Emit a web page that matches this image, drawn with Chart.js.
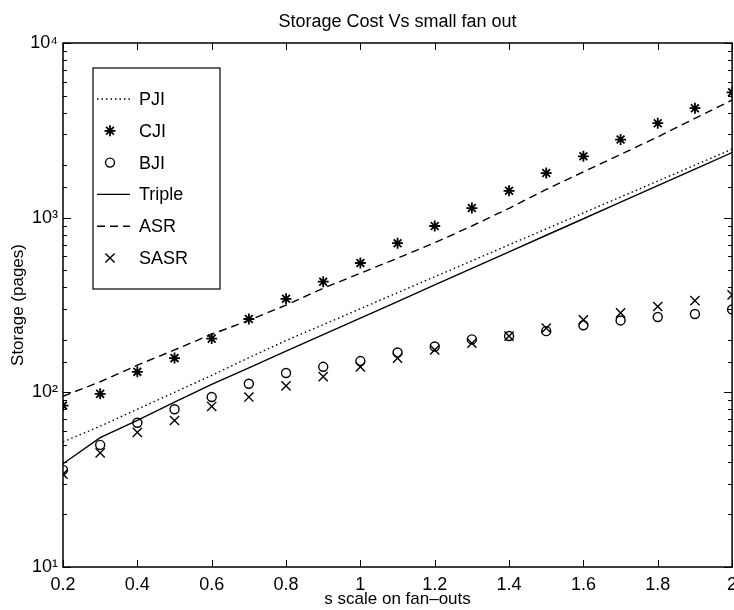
<!DOCTYPE html>
<html>
<head>
<meta charset="utf-8">
<script src="https://cdn.jsdelivr.net/npm/chart.js@4.4.1/dist/chart.umd.min.js"></script>
<style>
  html, body { margin: 0; background: #fff; overflow: hidden; }
  #wrap { width: 734px; height: 610px; overflow: hidden; }
</style>
</head>
<body>
<div id="wrap"><canvas id="storageChart" width="734" height="610"></canvas></div>
<script>
// s scale on fan-outs
var fanOut = [0.2, 0.3, 0.4, 0.5, 0.6, 0.7, 0.8, 0.9, 1.0, 1.1, 1.2, 1.3, 1.4, 1.5, 1.6, 1.7, 1.8, 1.9, 2.0];

// storage in pages
var pjiPages    = [52, 64, 80, 100, 125, 158, 198, 244, 301, 372, 459, 566, 699, 862, 1064, 1313, 1620, 1999, 2467];
var cjiPages    = [84, 98, 131, 157, 203, 263, 343, 430, 550, 714, 896, 1135, 1425, 1800, 2245, 2800, 3475, 4235, 5220];
var bjiPages    = [36, 50, 67, 80, 94, 112, 129, 140, 151, 169, 183, 201, 210, 224, 242, 258, 270, 281, 298];
var triplePages = [39, 55, 69, 88, 111, 138, 172, 214, 266, 331, 412, 512, 637, 793, 986, 1227, 1527, 1899, 2360];
var asrPages    = [95, 115, 143, 175, 215, 258, 316, 394, 481, 586, 719, 896, 1132, 1450, 1830, 2300, 2900, 3700, 4720];
var sasrPages   = [34, 45, 59, 69, 83, 94, 109, 123, 140, 157, 175, 191, 210, 233, 260, 285, 310, 335, 361];

var yTickValues = [10, 100, 1000, 10000];
var yTickLabels = ['10\u00b9', '10\u00b2', '10\u00b3', '10\u2074'];

var fontFamily = '"Liberation Sans", Arial, Helvetica, sans-serif';
var plotRight = 732;

function toPoints(arr) {
  return fanOut.map(function(x, i) { return { x: x, y: arr[i] }; });
}

// matlab style box with inward ticks
var matlabAxes = {
  id: 'matlabAxes',
  afterDatasetsDraw: function(chart) {
    var ctx = chart.ctx, a = chart.chartArea;
    var xs = chart.scales.x, ys = chart.scales.y;
    ctx.save();
    ctx.strokeStyle = '#000';
    ctx.lineWidth = 1;
    ctx.beginPath();
    xs.ticks.forEach(function(t) {
      var px = Math.round(xs.getPixelForValue(t.value)) + 0.5;
      ctx.moveTo(px, a.bottom); ctx.lineTo(px, a.bottom - 7);
      ctx.moveTo(px, a.top); ctx.lineTo(px, a.top + 7);
    });
    ys.ticks.forEach(function(t) {
      var py = Math.round(ys.getPixelForValue(t.value)) + 0.5;
      var len = yTickValues.indexOf(t.value) >= 0 ? 8 : 4;
      ctx.moveTo(a.left, py); ctx.lineTo(a.left + len, py);
      ctx.moveTo(a.right, py); ctx.lineTo(a.right - len, py);
    });
    ctx.stroke();
    ctx.lineWidth = 1.5;
    ctx.strokeRect(a.left, a.top, a.right - a.left, a.bottom - a.top);
    ctx.restore();
  }
};

// legend box inside the axes, upper left
var boxLegend = {
  id: 'boxLegend',
  afterDraw: function(chart) {
    var ctx = chart.ctx, a = chart.chartArea;
    var x0 = a.left + 30, y0 = a.top + 25, w = 127, h = 221;
    ctx.save();
    ctx.fillStyle = '#fff';
    ctx.fillRect(x0, y0, w, h);
    ctx.strokeStyle = '#000';
    ctx.lineWidth = 1.2;
    ctx.strokeRect(x0, y0, w, h);
    ctx.font = '18px ' + fontFamily;
    ctx.textBaseline = 'middle';
    chart.data.datasets.forEach(function(ds, i) {
      var y = y0 + 31 + i * 31.8;
      ctx.strokeStyle = '#000';
      if (ds.showLine) {
        ctx.lineWidth = ds.borderWidth;
        ctx.setLineDash(ds.borderDash || []);
        ctx.beginPath();
        ctx.moveTo(x0 + 4, y);
        ctx.lineTo(x0 + 37, y);
        ctx.stroke();
        ctx.setLineDash([]);
      }
      if (ds.pointRadius > 0) {
        ctx.lineWidth = ds.pointBorderWidth;
        ctx.fillStyle = ds.pointBackgroundColor;
        Chart.helpers.drawPoint(ctx, {
          pointStyle: ds.pointStyle, radius: ds.pointRadius,
          borderWidth: ds.pointBorderWidth, rotation: 0
        }, x0 + 17, y);
      }
      ctx.fillStyle = '#000';
      ctx.fillText(ds.label, x0 + 46, y + 1);
    });
    ctx.restore();
  }
};

function lineSet(label, arr, dash) {
  return {
    label: label, data: toPoints(arr), showLine: true,
    borderColor: '#000', borderWidth: 1.4, borderDash: dash,
    pointRadius: 0, tension: 0
  };
}

function markSet(label, arr, style, radius, width) {
  return {
    label: label, data: toPoints(arr), showLine: false,
    pointStyle: style, pointRadius: radius, pointHoverRadius: radius,
    pointBorderColor: '#000', pointBackgroundColor: 'rgba(255,255,255,0)',
    pointBorderWidth: width
  };
}

var ctx = document.getElementById('storageChart');
var storageChart = new Chart(ctx, {
  type: 'scatter',
  data: {
    datasets: [
      lineSet('PJI', pjiPages, [1.5, 3]),
      markSet('CJI', cjiPages, 'star', 5.5, 1.8),
      markSet('BJI', bjiPages, 'circle', 4.5, 1.4),
      lineSet('Triple', triplePages, []),
      lineSet('ASR', asrPages, [8, 5]),
      markSet('SASR', sasrPages, 'crossRot', 6.5, 1.4)
    ]
  },
  options: {
    responsive: false,
    maintainAspectRatio: false,
    animation: false,
    layout: { padding: { left: 0, right: 2, top: 0, bottom: 0 } },
    plugins: {
      legend: { display: false },
      tooltip: { enabled: false },
      title: {
        display: true,
        fullSize: false,
        text: 'Storage Cost Vs small fan out',
        color: '#000',
        font: { family: fontFamily, size: 18, weight: 'normal', lineHeight: 1 },
        padding: { top: 13, bottom: 12 }
      }
    },
    scales: {
      x: {
        type: 'linear',
        min: 0.2, max: 2,
        grid: { display: false, drawTicks: false },
        border: { display: false },
        ticks: {
          stepSize: 0.2,
          color: '#000',
          padding: 7,
          maxRotation: 0,
          autoSkip: false,
          font: { family: fontFamily, size: 18 },
          callback: function(v) { return String(+v.toFixed(1)); }
        },
        title: {
          display: true,
          text: 's scale on fan\u2013outs',
          color: '#000',
          font: { family: fontFamily, size: 17 },
          padding: { top: 0, bottom: 0 }
        },
        afterFit: function(scale) {
          scale.height = 43;
          scale.paddingLeft = 0;
          scale.paddingRight = 0;
        }
      },
      y: {
        type: 'logarithmic',
        min: 10, max: 10000,
        grid: { display: false, drawTicks: false },
        border: { display: false },
        ticks: {
          color: '#000',
          padding: 5,
          autoSkip: false,
          font: { family: fontFamily, size: 18 },
          callback: function(v) {
            var i = yTickValues.indexOf(v);
            return i >= 0 ? yTickLabels[i] : '';
          }
        },
        title: {
          display: true,
          text: 'Storage (pages)',
          color: '#000',
          font: { family: fontFamily, size: 17 },
          padding: { top: 8, bottom: 0 }
        },
        afterFit: function(scale) {
          scale.width = 63;
        }
      }
    }
  },
  plugins: [matlabAxes, boxLegend]
});

// the axes run to the right edge of the picture; widen the canvas
// (clipped by the wrapper) until the plot area ends where it should
for (var k = 0; k < 3; k++) {
  var shift = plotRight - storageChart.chartArea.right;
  if (Math.abs(shift) < 0.5) break;
  storageChart.resize(storageChart.width + Math.round(shift), 610);
}
</script>
</body>
</html>
